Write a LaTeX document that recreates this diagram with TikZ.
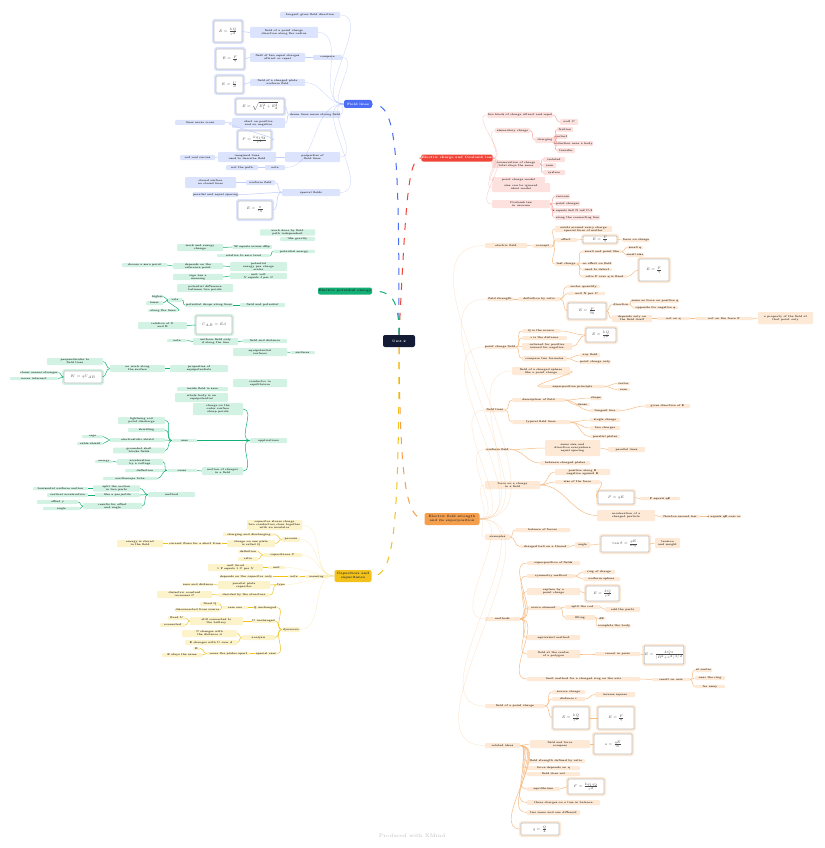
\documentclass[tikz,border=0pt]{standalone}
\usepackage{graphicx}
\usetikzlibrary{positioning}

\definecolor{bluem}{HTML}{4C6EF5}
\definecolor{bluel}{HTML}{DCE3FC}
\definecolor{redm}{HTML}{F04438}
\definecolor{redl}{HTML}{FDE1DF}
\definecolor{greenm}{HTML}{12B076}
\definecolor{greenl}{HTML}{D2F2E4}
\definecolor{orangem}{HTML}{F59E4C}
\definecolor{orangel}{HTML}{FDE9D5}
\definecolor{yellowm}{HTML}{F2C21B}
\definecolor{yellowl}{HTML}{FDF3CB}
\definecolor{navy}{HTML}{141B34}

\newcommand{\frml}[1]{\scalebox{0.7}{$#1$}}

\tikzset{
  box/.style={rounded corners=1pt, inner sep=0.4pt, align=center,
    font=\fontsize{2.6}{3}\selectfont\bfseries, text=black!85},
  bbox/.style={box, fill=bluel},
  rbox/.style={box, fill=redl},
  gbox/.style={box, fill=greenl},
  obox/.style={box, fill=orangel},
  ybox/.style={box, fill=yellowl},
  frm/.style={box, fill=white, draw=gray!50, line width=0.7pt,
    preaction={draw=#1, line width=4pt}, font=\fontsize{5}{6}\selectfont, text=black!70},
  head/.style={rounded corners=2pt, inner sep=0.5pt, align=center, text=white,
    font=\fontsize{3.2}{3.8}\selectfont\bfseries},
  main/.style={line width=1pt, dash pattern=on 7pt off 8pt},
  twig/.style={line width=0.5pt},
  fan/.style={line width=0.3pt, opacity=0.3},
}

\begin{document}
\begin{tikzpicture}[x=1pt, y=-1pt]
  \useasboundingbox[fill=white] (0,0) rectangle (824,848);

  % centre and branch headings
  \node[head, fill=navy, minimum width=32pt, minimum height=12pt] (c) at (399,341) {Unit 2};
  \node[head, fill=bluem, minimum width=28pt, minimum height=8pt] (bh) at (358,104) {Field lines};
  \node[head, fill=redm, minimum width=65pt, minimum height=7pt] (rh) at (457,158) {Electric charge and Coulomb law};
  \node[head, fill=greenm, minimum width=54pt, minimum height=7pt, text=black!85] (gh) at (345,291) {Electric potential energy};
  \node[head, fill=orangem, minimum width=55pt, minimum height=12pt, text=black!80] (oh) at (452,519) {Electric field strength\\and its superposition};
  \node[head, fill=yellowm, minimum width=37pt, minimum height=12pt, text=black!85] (yh) at (353,576) {Capacitors and\\capacitance};

  % branch lines
  \draw[main, bluem] (c.north) .. controls (399,150) and (397,104) .. (bh.east);
  \draw[main, redm] (c.north) .. controls (406,200) and (408,158) .. (rh.west);
  \draw[main, greenm] (c.north) .. controls (399,300) and (392,291) .. (gh.east);
  \draw[main, orangem] (c.south) .. controls (400,480) and (406,519) .. (oh.west);
  \draw[main, yellowm] (c.south) .. controls (399,545) and (392,576) .. (yh.east);

  % blue branch
  \foreach \n/\xa/\ya/\xb/\yb/\t in {
    b1/280/12/340/18/tangent gives field direction,
    b2/250/27/318/38/{field of a point charge\\direction along the radius},
    b3/250/53/305/62/{field of two equal charges\\attract or repel},
    b4/313/55/342/60/compare,
    b5/250/79/305/86/{field of a charged plate\\uniform field},
    b6/290/111/340/118/dense lines mean strong field,
    b7/175/120/225/125/lines never cross,
    b8/232/118/285/128/{start on positive\\end on negative},
    b9/180/155/215/160/not real curves,
    b10/218/152/276/162/{imagined lines\\used to describe field},
    b11/285/152/340/162/{properties of\\field lines},
    b12/226/165/258/170/not the path,
    b13/265/165/285/170/note,
    b14/185/177/236/188/{closed surface\\no closed lines},
    b15/246/180/275/185/uniform field,
    b16/198/192/233/197/parallel and equal spacing,
    b17/282/189/340/196/special fields}
    \node[bbox, minimum width={(\xb-\xa)*1pt}, minimum height={(\yb-\ya)*1pt}] (\n) at ({(\xa+\xb)/2},{(\ya+\yb)/2}) {\t};
  \foreach \n/\xa/\ya/\xb/\yb/\t in {
    bf1/214/21/242/42/{\frml{E=\frac{kQ}{r^2}}},
    bf2/216/49/244/69/{\frml{E=\frac{F}{q}}},
    bf3/216/76/243/93/{\frml{E=\frac{U}{d}}},
    bf4/236/99/284/114/{\frml{E=\sqrt{E_1^2+E_2^2}}},
    bf5/238/131/271/149/{\frml{F=\frac{kq_1q_2}{r^2}}},
    bf6/238/201/272/219/{\frml{E=\frac{\sigma}{\varepsilon_0}}}}
    \node[frm=bluel, minimum width={(\xb-\xa)*1pt}, minimum height={(\yb-\ya)*1pt}] (\n) at ({(\xa+\xb)/2},{(\ya+\yb)/2}) {\t};
  \foreach \a/\b in {bh/b1, bh/b2, bh/b4, bh/b5, bh/b6, bh/b11, bh/b13, bh/b17}
    \draw[fan, bluem] (\a.west) to[out=180, in=0] (\b.east);
  \foreach \a/\b in {b2/bf1, b4/b3, b3/bf2, b5/bf3, b6/bf4, b6/b8, b8/b7, b8/bf5,
                     b11/b10, b10/b9, b13/b12, b17/b15, b15/b14, b17/b16, b17/bf6}
    \draw[twig, bluem!35] (\a.west) to[out=180, in=0] (\b.east);

  % red branch
  \foreach \n/\xa/\ya/\xb/\yb/\t in {
    r1/490/112/550/118/two kinds of charge attract and repel,
    r2/560/119/578/125/unit C,
    r3/495/128/530/133/elementary charge,
    r4/535/137/555/143/charging,
    r5/557/127/573/132/friction,
    r6/557/134/565/139/contact,
    r7/557/141/590/146/induction near a body,
    r8/557/148/575/153/transfer,
    r9/492/160/540/168/{conservation of charge\\total stays the same},
    r10/543/157/565/162/isolated,
    r11/543/163/556/168/sum,
    r12/543/170/565/175/system,
    r13/492/177/545/183/point charge model,
    r14/492/183/550/192/{size can be ignored\\ideal model},
    r15/492/200/550/208/{Coulomb law\\in vacuum},
    r16/555/194/570/199/vacuum,
    r17/555/201/580/206/point charges,
    r18/555/208/590/213/k equals 9e9 N m2 C-2,
    r19/555/215/600/220/along the connecting line}
    \node[rbox, minimum width={(\xb-\xa)*1pt}, minimum height={(\yb-\ya)*1pt}] (\n) at ({(\xa+\xb)/2},{(\ya+\yb)/2}) {\t};
  \foreach \a/\b in {rh/r1, rh/r3, rh/r9, rh/r13, rh/r14, rh/r15}
    \draw[fan, redm] (\a.east) to[out=0, in=180] (\b.west);
  \foreach \a/\b in {r1/r2, r3/r4, r4/r5, r4/r6, r4/r7, r4/r8, r9/r10, r9/r11,
                     r9/r12, r15/r16, r15/r17, r15/r18, r15/r19}
    \draw[twig, redm!50] (\a.east) to[out=0, in=180] (\b.west);

  % green branch
  \foreach \n/\xa/\ya/\xb/\yb/\t in {
    g1/260/230/315/235/{work done by field\\path independent},
    g2/280/237/315/241/like gravity,
    g3/177/244/223/251/{work and energy\\change},
    g4/232/245/272/249/W equals minus dEp,
    g5/217/254/270/257/relative to zero level,
    g6/273/250/315/253/potential energy,
    g7/122/263/167/267/choose a zero point,
    g8/173/263/223/269/{depends on the\\reference point},
    g9/230/262/287/271/{potential\\energy per charge\\scalar},
    g10/173/274/223/280/{sign has a\\meaning},
    g11/230/273/287/279/{unit volt\\V equals J per C},
    g12/177/284/233/292/{potential difference\\between two points},
    g13/152/295/163/298/higher,
    g14/146/301/163/305/lower,
    g15/148/309/178/312/along the lines,
    g16/168/298/182/302/rule,
    g17/185/303/233/307/potential drops along lines,
    g18/240/303/285/307/field and potential,
    g19/138/322/187/329/{relation of U\\and E},
    g20/167/339/187/342/note,
    g21/193/338/238/345/{uniform field only\\d along the line},
    g22/243/339/287/343/field and distance,
    g23/233/348/287/356/{equipotential\\surfaces},
    g24/290/351/315/354/surfaces,
    g25/47/358/103/365/{perpendicular to\\field lines},
    g26/110/365/165/372/{no work along\\the surface},
    g27/170/365/228/372/{properties of\\equipotentials},
    g28/20/371/58/374/closer means stronger,
    g29/10/377/58/380/never intersect,
    g30/233/379/287/387/{conductor in\\equilibrium},
    g31/177/387/228/391/inside field is zero,
    g32/175/393/228/402/{whole body is an\\equipotential},
    g33/193/403/243/415/{charge on the\\outer surface\\sharp points},
    g34/250/438/287/443/applications,
    g35/118/417/165/424/{lightning rod\\point discharge},
    g36/128/428/165/432/shielding,
    g37/110/438/165/442/electrostatic shield,
    g38/113/448/165/453/{grounded shell\\blocks fields},
    g39/172/439/197/442/uses,
    g40/82/435/103/438/cage,
    g41/77/442/103/445/cable shield,
    g42/202/467/243/475/{motion of charges\\in a field},
    g43/167/469/197/472/cases,
    g44/117/459/163/465/{acceleration\\by a voltage},
    g45/95/460/113/463/energy,
    g46/125/469/165/472/deflection,
    g47/103/477/157/480/oscilloscope tube,
    g48/33/487/88/490/horizontal uniform motion,
    g49/93/486/140/491/{split the motion\\in two parts},
    g50/47/493/88/497/vertical acceleration,
    g51/95/493/140/497/{like a projectile},
    g52/148/492/195/497/method,
    g53/37/500/78/504/offset y,
    g54/43/507/80/510/angle,
    g55/83/503/142/509/{results for offset\\and angle}}
    \node[gbox, minimum width={(\xb-\xa)*1pt}, minimum height={(\yb-\ya)*1pt}] (\n) at ({(\xa+\xb)/2},{(\ya+\yb)/2}) {\t};
  \foreach \n/\xa/\ya/\xb/\yb/\t in {
    gf1/196/316/232/334/{\frml{U_{AB}=Ed}},
    gf2/64/371/102/383/{\frml{W=qU_{AB}}}}
    \node[frm=greenl, minimum width={(\xb-\xa)*1pt}, minimum height={(\yb-\ya)*1pt}] (\n) at ({(\xa+\xb)/2},{(\ya+\yb)/2}) {\t};
  \foreach \a/\b in {g4/g3, g6/g5, g9/g8, g8/g7, g11/g10, g18/g17, g17/g16,
                     g16/g13, g16/g14, g16/g15, gf1/g19, g22/g21, g21/g20,
                     g24/g23, g27/g26, g26/g25, g26/gf2, gf2/g28, gf2/g29,
                     g34/g33, g34/g39, g34/g42, g39/g35, g39/g36, g39/g37,
                     g39/g38, g37/g40, g37/g41, g42/g43, g43/g44, g43/g46,
                     g43/g47, g44/g45, g52/g49, g52/g51, g49/g48, g51/g50,
                     g52/g55, g55/g53, g55/g54}
    \draw[twig, greenm] (\a.west) to[out=180, in=0] (\b.east);

  % orange branch
  \foreach \n/\xa/\ya/\xb/\yb/\t in {
    o1/485/243/527/248/electric field,
    o2/533/244/552/248/concept,
    o3/555/226/612/232/{exists around every charge\\special form of matter},
    o4/555/238/577/242/effect,
    o5/625/238/647/242/force on charge,
    o6/555/262/577/266/test charge,
    o7/582/250/622/253/small and point like,
    o8/627/246/643/249/small q,
    o9/627/253/643/257/small size,
    o10/582/262/612/265/no effect on field,
    o11/582/268/612/271/used to detect,
    o12/582/275/627/278/ratio F over q is fixed,
    o13/487/297/513/301/field strength,
    o14/518/297/560/301/definition by ratio,
    o15/567/285/600/288/vector quantity,
    o16/568/292/605/295/unit N per C,
    o17/612/303/630/306/direction,
    o18/633/299/677/303/same as force on positive q,
    o19/633/306/678/309/opposite for negative q,
    o20/612/315/652/322/{depends only on\\the field itself},
    o21/657/317/690/320/not on q,
    o22/695/317/753/320/not on the force F,
    o23/758/312/813/324/{a property of the field at\\that point only},
    o24/487/345/513/349/point charge field,
    o25/522/329/560/333/Q is the source,
    o26/522/336/567/340/r is the distance,
    o27/522/343/572/350/{outward for positive\\inward for negative},
    o28/522/356/567/361/compare two formulas,
    o29/580/353/600/357/any field,
    o30/580/360/610/364/point charge only,
    o31/512/367/570/375/{field of a charged sphere\\like a point charge},
    o32/540/385/605/388/superposition principle,
    o33/617/382/630/385/vector,
    o34/617/388/630/391/sum,
    o35/485/408/505/412/field lines,
    o36/512/398/565/402/description of field,
    o37/590/396/602/400/shape,
    o38/575/403/590/406/dense,
    o39/590/409/620/412/tangent line,
    o40/645/404/690/408/gives direction of E,
    o41/512/420/570/424/typical field lines,
    o42/590/418/620/422/single charge,
    o43/590/426/620/430/two charges,
    o44/590/435/620/438/parallel plates,
    o45/485/448/510/451/uniform field,
    o46/545/440/600/456/{same size and\\direction everywhere\\equal spacing},
    o47/608/447/645/452/parallel lines,
    o48/540/461/590/465/between charged plates,
    o49/485/481/540/489/{force on a charge\\in a field},
    o50/555/469/610/475/{positive along E\\negative against E},
    o51/555/480/600/484/size of the force,
    o52/640/497/680/500/F equals qE,
    o53/597/510/655/521/{acceleration of a\\charged particle},
    o54/660/515/700/518/Newton second law,
    o55/710/515/738/518/a equals qE over m,
    o56/485/534/510/540/examples,
    o57/515/528/570/532/balance of forces,
    o58/520/545/570/548/charged ball on a thread,
    o59/575/542/590/548/angle,
    o60/655/538/680/548/{tension\\and weight},
    o61/485/617/520/621/methods,
    o62/527/561/580/565/superposition of fields,
    o63/527/574/575/578/symmetry method,
    o64/583/570/615/574/ring of charge,
    o65/583/577/620/581/uniform sphere,
    o66/527/588/580/595/{replace by a\\point charge},
    o67/527/606/560/610/micro element,
    o68/565/605/600/609/split the rod,
    o69/605/607/640/612/add the parts,
    o70/565/615/595/620/filling,
    o71/598/617/605/620/dE,
    o72/598/624/630/628/complete the body,
    o73/527/635/580/640/equivalent method,
    o74/527/650/580/658/{field at the centre\\of a polygon},
    o75/595/652/640/656/cancel in pairs,
    o76/527/677/640/681/limit method for a charged ring on the axis,
    o77/652/678/690/681/result on axis,
    o78/695/668/712/672/at centre,
    o79/695/676/725/680/near the ring,
    o80/695/685/725/688/far away,
    o81/485/704/545/708/field of a point charge,
    o82/552/690/585/694/source charge,
    o83/552/697/585/701/distance r,
    o84/595/692/635/697/inverse square,
    o85/485/743/520/748/related ideas,
    o86/530/740/590/748/{field and force\\compare},
    o87/527/759/585/763/field strength defined by ratio,
    o88/527/766/580/770/force depends on q,
    o89/527/772/580/776/field does not,
    o90/527/787/560/791/equilibrium,
    o91/527/800/600/805/three charges on a line in balance,
    o92/527/810/580/815/two same and one different}
    \node[obox, minimum width={(\xb-\xa)*1pt}, minimum height={(\yb-\ya)*1pt}] (\n) at ({(\xa+\xb)/2},{(\ya+\yb)/2}) {\t};
  \foreach \n/\xa/\ya/\xb/\yb/\t in {
    of1/583/236/617/243/{\frml{E=\frac{F}{q}}},
    of2/639/259/669/281/{\frml{E=\frac{F}{q}}},
    of3/568/303/606/319/{\frml{E=\frac{F}{q_{0}}}},
    of4/586/328/616/342/{\frml{E=\frac{kQ}{r^2}}},
    of5/598/491/634/504/{\frml{F=qE}},
    of6/601/536/649/552/{\frml{\tan\theta=\frac{qE}{mg}}},
    of7/586/586/619/601/{\frml{E=\frac{kQ}{r^2}}},
    of8/646/646/682/664/{\frml{E=\frac{kQx}{(R^2+x^2)^{3/2}}}},
    of9/553/707/589/729/{\frml{E=\frac{kQ}{r^2}}},
    of10/598/707/634/729/{\frml{E=\frac{F}{q}}},
    of11/594/734/632/754/{\frml{a=\frac{qE}{m}}},
    of12/568/779/604/794/{\frml{F=\frac{kq_1q_2}{r^2}}},
    of13/521/823/559/835/{\frml{q=\frac{Q}{4}}}}
    \node[frm=orangel, minimum width={(\xb-\xa)*1pt}, minimum height={(\yb-\ya)*1pt}] (\n) at ({(\xa+\xb)/2},{(\ya+\yb)/2}) {\t};
  \foreach \a/\b in {oh/o1, oh/o13, oh/o24, oh/o31, oh/o35, oh/o45, oh/o49,
                     oh/o56, oh/o61, oh/o81, oh/o85}
    \draw[fan, orangem] (\a.east) to[out=0, in=180] (\b.west);
  \foreach \a/\b in {o1/o2, o2/o3, o2/o4, o2/o6, o4/of1, of1/o5, o6/o7, o6/o10,
                     o6/o11, o6/o12, o7/o8, o7/o9, o12/of2,
                     o13/o14, o14/o15, o14/o16, o14/of3, of3/o17, of3/o20,
                     o17/o18, o17/o19, o20/o21, o21/o22, o22/o23,
                     o24/o25, o24/o26, o24/o27, o24/o28, o25/of4, o27/of4,
                     o28/o29, o28/o30, o31/o32, o32/o33, o32/o34,
                     o35/o36, o35/o41, o36/o37, o36/o38, o36/o39, o39/o40,
                     o41/o42, o41/o43, o41/o44, o45/o46, o45/o48, o46/o47,
                     o49/o50, o49/o51, o49/o53, o51/of5, of5/o52, o53/o54, o54/o55,
                     o56/o57, o56/o58, o58/o59, o59/of6, of6/o60,
                     o61/o62, o61/o63, o61/o66, o61/o67, o61/o73, o61/o74, o61/o76,
                     o63/o64, o63/o65, o66/of7, o67/o68, o67/o70, o68/o69,
                     o70/o71, o70/o72, o74/o75, o75/of8, o76/o77, o77/o78,
                     o77/o79, o77/o80,
                     o81/o82, o81/o83, o81/of9, o83/o84, of9/of10,
                     o85/o86, o86/of11, o85/o87, o85/o88, o85/o89, o85/o90,
                     o85/o91, o85/o92, o85/of13, o90/of12}
    \draw[twig, orangem!70] (\a.east) to[out=0, in=180] (\b.west);

  % yellow branch
  \foreach \n/\xa/\ya/\xb/\yb/\t in {
    y1/247/520/302/530/{capacitor stores charge\\two conductors close together\\with an insulator},
    y2/223/533/275/536/charging and discharging,
    y3/227/540/275/547/{charge on one plate\\is called Q},
    y4/282/537/300/542/process,
    y5/168/542/222/545/current flows for a short time,
    y6/117/540/163/547/{energy is stored\\in the field},
    y7/238/550/258/553/definition,
    y8/238/557/258/561/ratio,
    y9/263/553/302/557/capacitance C,
    y10/208/564/263/571/{unit farad\\1 F equals 1 C per V},
    y11/268/566/285/569/unit,
    y12/220/575/272/578/depends on the capacitor only,
    y13/288/575/300/578/note,
    y14/305/575/328/578/meaning,
    y15/218/581/270/589/{parallel plate\\capacitor},
    y16/277/583/285/586/type,
    y17/183/583/213/586/area and distance,
    y18/157/591/212/598/{dielectric constant\\increases C},
    y19/218/593/270/597/decided by the structure,
    y20/200/602/220/606/fixed Q,
    y21/177/608/218/612/disconnected from source,
    y22/222/606/248/609/case one,
    y23/253/606/277/609/Q unchanged,
    y24/282/627/300/632/dynamics,
    y25/168/616/185/620/fixed U,
    y26/160/623/185/627/connected,
    y27/190/617/243/625/{still connected to\\the battery},
    y28/252/619/275/623/U unchanged,
    y29/182/630/237/637/{C changes with\\the distance d},
    y30/242/635/275/640/analysis,
    y31/185/640/237/645/E changes with U over d,
    y32/193/647/200/650/E,
    y33/162/653/202/657/E stays the same,
    y34/207/652/250/655/move the plates apart,
    y35/255/652/277/655/special case}
    \node[ybox, minimum width={(\xb-\xa)*1pt}, minimum height={(\yb-\ya)*1pt}] (\n) at ({(\xa+\xb)/2},{(\ya+\yb)/2}) {\t};
  \foreach \a/\b in {yh/y1, yh/y4, yh/y9, yh/y11, yh/y14, yh/y16, yh/y24}
    \draw[fan, yellowm] (\a.west) to[out=180, in=0] (\b.east);
  \foreach \a/\b in {y14/y13, y13/y12, y4/y2, y4/y3, y3/y5, y5/y6, y9/y7, y9/y8,
                     y11/y10, y16/y15, y16/y19, y15/y17, y19/y18,
                     y24/y23, y24/y28, y24/y30, y24/y35, y23/y22, y22/y21,
                     y22/y20, y28/y27, y27/y25, y27/y26, y30/y29, y30/y31,
                     y35/y34, y34/y33, y34/y32}
    \draw[twig, yellowm] (\a.west) to[out=180, in=0] (\b.east);

  % footer
  \node[font=\fontsize{5}{6}\selectfont, text=black!25] (foot) at (412,836) {Produced with XMind};
\end{tikzpicture}
\end{document}
